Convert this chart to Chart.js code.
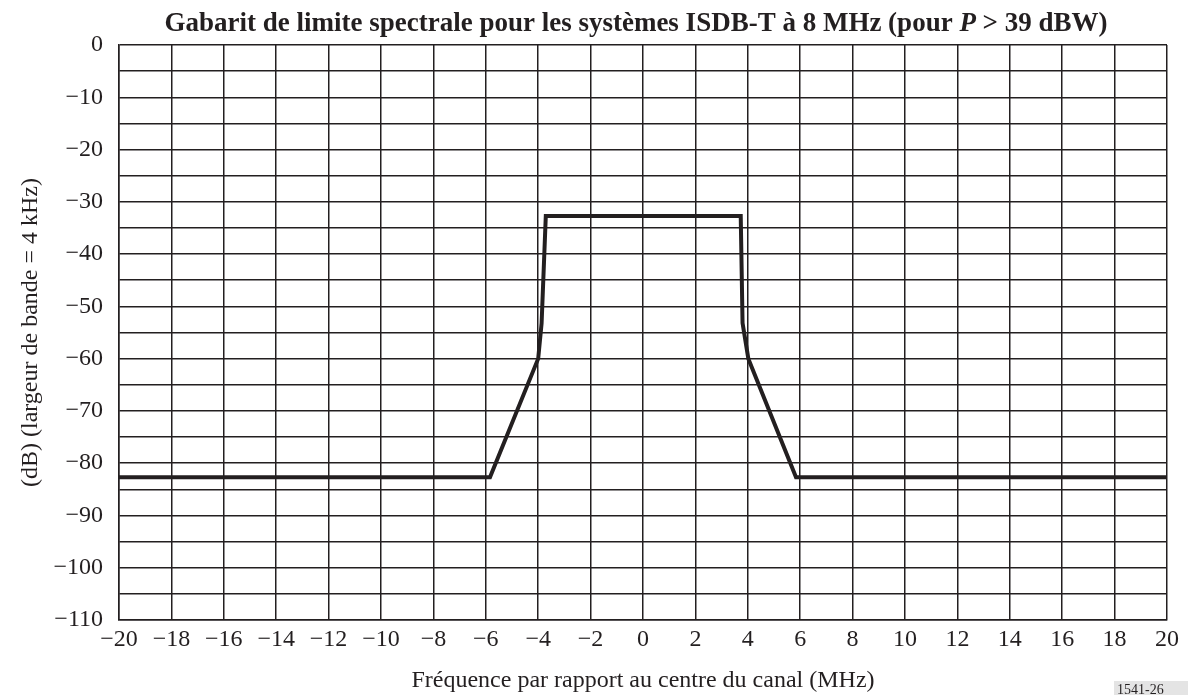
<!DOCTYPE html>
<html>
<head>
<meta charset="utf-8">
<script src="https://cdn.jsdelivr.net/npm/chart.js@4.4.1/dist/chart.umd.min.js"></script>
<style>
  html, body { margin: 0; padding: 0; background: #fff; }
  #wrap { width: 1188px; height: 695px; position: relative; }
</style>
</head>
<body>
<div id="wrap"><canvas id="maskChart"></canvas></div>
<script>
// Spectrum mask breakpoints
const freqMHz = [-20, -5.84, -4.0, -3.87, -3.71, 3.73, 3.8, 4.02, 5.84, 20];
const levelDb = [-82.7, -82.7, -60, -53.2, -32.7, -32.7, -53.2, -60, -82.7, -82.7];

const xTicks = [-20, -18, -16, -14, -12, -10, -8, -6, -4, -2, 0, 2, 4, 6, 8, 10, 12, 14, 16, 18, 20];
const xTickLabels = ['−20', '−18', '−16', '−14', '−12', '−10', '−8', '−6', '−4', '−2', '0',
                     '2', '4', '6', '8', '10', '12', '14', '16', '18', '20'];
const yTicks = [0, -10, -20, -30, -40, -50, -60, -70, -80, -90, -100, -110];
const yTickLabels = ['0', '−10', '−20', '−30', '−40', '−50', '−60', '−70', '−80', '−90', '−100', '−110'];

// title pieces: the P is set in italic
const titleParts = [
    { text: 'Gabarit de limite spectrale pour les systèmes ISDB-T à 8 MHz (pour ', italic: false },
    { text: 'P', italic: true },
    { text: ' > 39 dBW)', italic: false }
];

const ink = '#231f20';
const serif = "'Liberation Serif', 'Times New Roman', serif";

// title with mixed styles + figure number tag
const decor = {
    id: 'decor',
    afterDraw(chart) {
        const ctx = chart.ctx;
        ctx.save();
        ctx.fillStyle = ink;
        ctx.textBaseline = 'alphabetic';
        const fontFor = p => (p.italic ? 'italic ' : '') + 'bold 27px ' + serif;
        let total = 0;
        titleParts.forEach(p => { ctx.font = fontFor(p); total += ctx.measureText(p.text).width; });
        let x = 636 - total / 2;
        titleParts.forEach(p => {
            ctx.font = fontFor(p);
            ctx.fillText(p.text, x, 31);
            x += ctx.measureText(p.text).width;
        });

        ctx.fillStyle = '#e4e4e4';
        ctx.fillRect(1114, 681, 74, 14);
        ctx.fillStyle = ink;
        ctx.font = '14px ' + serif;
        ctx.fillText('1541-26', 1117, 694);
        ctx.restore();
    }
};

new Chart(document.getElementById('maskChart').getContext('2d'), {
    type: 'line',
    data: {
        datasets: [{
            data: freqMHz.map((f, i) => ({ x: f, y: levelDb[i] })),
            borderColor: ink,
            borderWidth: 4,
            pointRadius: 0,
            tension: 0,
            fill: false,
            borderJoinStyle: 'miter'
        }]
    },
    plugins: [decor],
    options: {
        responsive: true,
        maintainAspectRatio: false,
        animation: false,
        layout: { padding: { left: 0, right: 21, top: 45, bottom: 0 } },
        plugins: {
            legend: { display: false },
            tooltip: { enabled: false },
            title: { display: false }
        },
        scales: {
            x: {
                type: 'linear',
                min: -20,
                max: 20,
                afterFit(scale) { scale.height = 75; },
                ticks: {
                    stepSize: 2,
                    color: ink,
                    padding: 5,
                    maxRotation: 0,
                    autoSkip: false,
                    font: { family: serif, size: 24 },
                    callback: v => {
                        const i = xTicks.indexOf(v);
                        return i >= 0 ? xTickLabels[i] : '';
                    }
                },
                grid: { color: ink, lineWidth: 1.5, drawTicks: false },
                border: { color: ink, width: 1.5 },
                title: {
                    display: true,
                    text: 'Fréquence par rapport au centre du canal (MHz)',
                    color: ink,
                    font: { family: serif, size: 24 },
                    padding: { top: 0, bottom: 0 }
                }
            },
            y: {
                min: -110,
                max: 0,
                afterFit(scale) { scale.width = 119; },
                ticks: {
                    stepSize: 5,
                    color: ink,
                    padding: 16,
                    autoSkip: false,
                    font: { family: serif, size: 24 },
                    callback: v => {
                        const i = yTicks.indexOf(v);
                        return i >= 0 ? yTickLabels[i] : '';
                    }
                },
                grid: { color: ink, lineWidth: 1.5, drawTicks: false },
                border: { color: ink, width: 1.5 },
                title: {
                    display: true,
                    text: '(dB) (largeur de bande = 4 kHz)',
                    color: ink,
                    font: { family: serif, size: 24 },
                    padding: { top: 16, bottom: 16 }
                }
            }
        }
    }
});
</script>
</body>
</html>
